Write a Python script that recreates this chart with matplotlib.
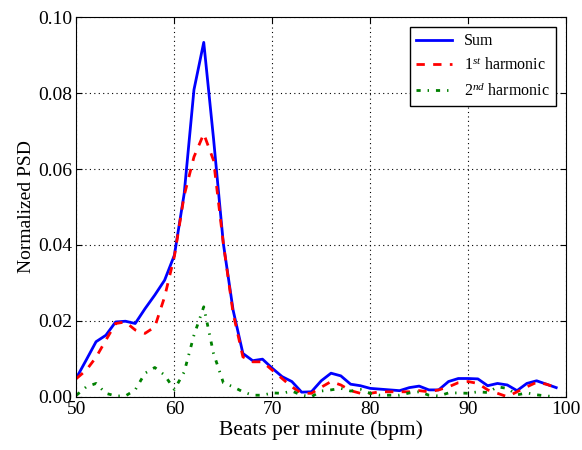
import matplotlib
matplotlib.use("Agg")
import matplotlib.pyplot as plt
import numpy as np

bpm = list(range(50, 100))
psd_sum = [0.0050, 0.0097, 0.0145, 0.0162, 0.0197, 0.0199, 0.0193, 0.0232, 0.0268, 0.0307,
           0.0373, 0.0535, 0.0809, 0.0934, 0.0680, 0.0404, 0.0228, 0.0114, 0.0095, 0.0099,
           0.0075, 0.0053, 0.0040, 0.0012, 0.0013, 0.0042, 0.0062, 0.0055, 0.0033, 0.0029,
           0.0022, 0.0020, 0.0018, 0.0016, 0.0024, 0.0028, 0.0018, 0.0018, 0.0040, 0.0048,
           0.0048, 0.0047, 0.0029, 0.0035, 0.0031, 0.0016, 0.0035, 0.0042, 0.0033, 0.0024]
psd_h1 = [0.0048, 0.0070, 0.0104, 0.0149, 0.0193, 0.0197, 0.0176, 0.0167, 0.0184, 0.0263,
          0.0370, 0.0530, 0.0632, 0.0693, 0.0623, 0.0404, 0.0220, 0.0105, 0.0092, 0.0092,
          0.0070, 0.0048, 0.0026, 0.0009, 0.0009, 0.0025, 0.0040, 0.0031, 0.0016, 0.0009,
          0.0009, 0.0013, 0.0013, 0.0013, 0.0013, 0.0016, 0.0013, 0.0018, 0.0026, 0.0037,
          0.0040, 0.0035, 0.0018, 0.0009, 0.0000, 0.0013, 0.0026, 0.0038, 0.0033, 0.0024]
psd_h2 = [0.0004, 0.0026, 0.0035, 0.0009, 0.0002, 0.0002, 0.0018, 0.0062, 0.0077, 0.0057,
          0.0019, 0.0065, 0.0162, 0.0237, 0.0114, 0.0037, 0.0026, 0.0013, 0.0004, 0.0004,
          0.0010, 0.0009, 0.0015, 0.0004, 0.0000, 0.0015, 0.0018, 0.0022, 0.0015, 0.0019,
          0.0009, 0.0004, 0.0004, 0.0004, 0.0010, 0.0013, 0.0004, 0.0002, 0.0010, 0.0010,
          0.0009, 0.0013, 0.0011, 0.0026, 0.0022, 0.0005, 0.0010, 0.0005, 0.0002, 0.0000]

labels = ["Sum", "1$^{st}$ harmonic", "2$^{nd}$ harmonic"]
xticks = [50, 60, 70, 80, 90, 100]
yticks = [0.00, 0.02, 0.04, 0.06, 0.08, 0.10]

plt.rcParams['font.family'] = ['Liberation Serif', 'DejaVu Serif']
plt.rcParams['mathtext.fontset'] = 'custom'
plt.rcParams['mathtext.rm'] = 'Liberation Serif'
plt.rcParams['mathtext.it'] = 'Liberation Serif:italic'

fig = plt.figure(figsize=(5.82, 4.5), dpi=100)
ax = fig.add_axes([0.1314, 0.1184, 0.8411, 0.8431])

ax.plot(bpm, psd_sum, color='blue', lw=2, label=labels[0])
ax.plot(bpm, psd_h1, color='red', lw=2, dashes=(3, 3), label=labels[1])
ax.plot(bpm, psd_h2, color='green', lw=2, dashes=(1.5, 2.5, 0.5, 2.5), label=labels[2])

ax.set_xlim(50, 100)
ax.set_ylim(0, 0.10)
ax.set_xticks(xticks)
ax.set_yticks(yticks)
ax.set_yticklabels([f"{v:.2f}" for v in yticks])
ax.tick_params(direction='in', top=True, right=True, labelsize=14, length=4, pad=3)
ax.grid(True, color='black', linestyle=(0, (1, 3)), linewidth=0.8)
ax.set_xlabel("Beats per minute (bpm)", fontsize=15.5, labelpad=2)
ax.set_ylabel("Normalized PSD", fontsize=14, labelpad=2)

leg = ax.legend(loc='upper right', fontsize=11.5, fancybox=False, framealpha=1,
                edgecolor='black', handlelength=2.2, borderaxespad=0.6)
leg.get_frame().set_linewidth(1.0)

fig.savefig("out.png", dpi=100, facecolor='white')
